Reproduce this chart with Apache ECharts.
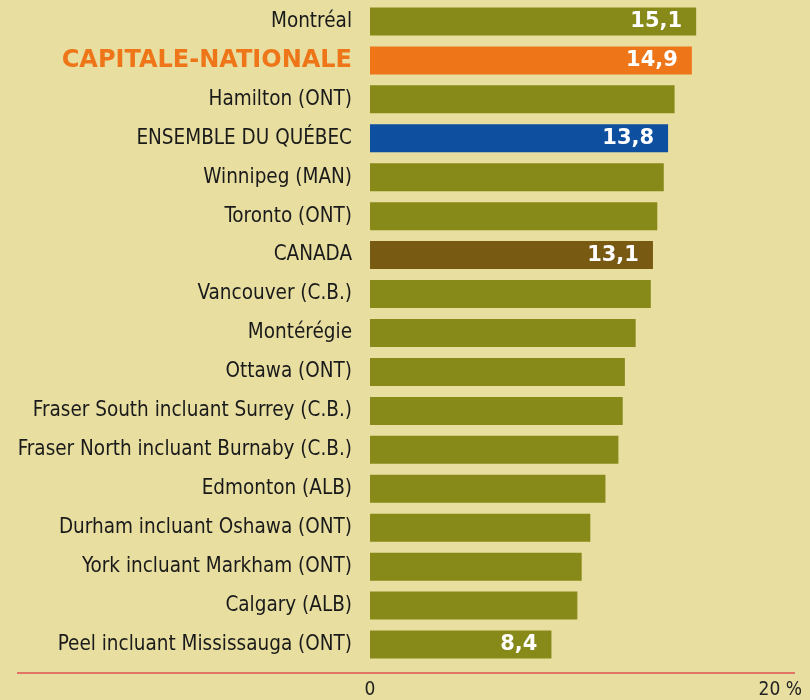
<!DOCTYPE html>
<html lang="fr">
<head>
  <meta http-equiv="Content-Type" content="text/html; charset=UTF-8">
  <title>Taux</title>
  <style>
    html, body { margin: 0; padding: 0; background: #e7dea0; }
    #myChart { width: 810px; height: 700px; }
  </style>
</head>
<body>
  <div id="myChart"></div>
  <script src="https://cdn.jsdelivr.net/npm/echarts@6/dist/echarts.min.js"></script>
  <script>
    const categories = [
      'Montréal', 'CAPITALE-NATIONALE', 'Hamilton (ONT)', 'ENSEMBLE DU QUÉBEC',
      'Winnipeg (MAN)', 'Toronto (ONT)', 'CANADA', 'Vancouver (C.B.)', 'Montérégie',
      'Ottawa (ONT)', 'Fraser South incluant Surrey (C.B.)',
      'Fraser North incluant Burnaby (C.B.)', 'Edmonton (ALB)',
      'Durham incluant Oshawa (ONT)', 'York incluant Markham (ONT)',
      'Calgary (ALB)', 'Peel incluant Mississauga (ONT)'
    ];
    const values = [15.1, 14.9, 14.1, 13.8, 13.6, 13.3, 13.1, 13.0, 12.3,
      11.8, 11.7, 11.5, 10.9, 10.2, 9.8, 9.6, 8.4];
    // which bars show their value
    const labelled = ['Montréal', 'CAPITALE-NATIONALE', 'ENSEMBLE DU QUÉBEC', 'CANADA',
      'Peel incluant Mississauga (ONT)'];
    const xTicks = [0, 20];

    const barColors = {
      'CAPITALE-NATIONALE': '#ee7518',
      'ENSEMBLE DU QUÉBEC': '#0f4fa0',
      'CANADA': '#795a13'
    };

    const myChart = echarts.init(document.getElementById('myChart'));
    const option = {
      backgroundColor: '#e7dea0',
      animation: false,
      grid: { left: 370, right: 8, top: 2, bottom: 36 },
      xAxis: {
        type: 'value',
        min: xTicks[0],
        max: xTicks[1],
        interval: 20,
        splitLine: { show: false },
        axisLine: { show: false },
        axisTick: { show: false },
        axisLabel: {
          margin: 17,
          fontFamily: 'DejaVu Sans Condensed',
          fontSize: 19,
          color: '#222',
          alignMaxLabel: 'right',
          formatter: v => v === 20 ? '20 %' : String(v)
        }
      },
      yAxis: {
        type: 'category',
        inverse: true,
        data: categories.map(c => c === 'CAPITALE-NATIONALE'
          ? { value: c, textStyle: { color: '#ee7518', fontWeight: 'bold', fontSize: 24, fontFamily: 'DejaVu Sans' } }
          : c),
        axisLine: { show: false },
        axisTick: { show: false },
        axisLabel: {
          margin: 18,
          fontFamily: 'DejaVu Sans Condensed',
          fontSize: 20.5,
          color: '#1a1a1a'
        }
      },
      series: [{
        type: 'bar',
        barWidth: 28,
        data: values.map((v, i) => ({
          value: v,
          itemStyle: { color: barColors[categories[i]] || '#878a18' },
          label: { show: labelled.includes(categories[i]) }
        })),
        label: {
          position: 'insideRight',
          distance: 14,
          color: '#fff',
          fontFamily: 'DejaVu Sans',
          fontWeight: 'bold',
          fontSize: 21,
          formatter: p => p.value.toFixed(1).replace('.', ',')
        }
      }],
      graphic: [{
        type: 'line',
        shape: { x1: 17, y1: 673, x2: 795, y2: 673 },
        style: { stroke: '#e07565', lineWidth: 2 }
      }]
    };
    myChart.setOption(option);
  </script>
</body>
</html>
